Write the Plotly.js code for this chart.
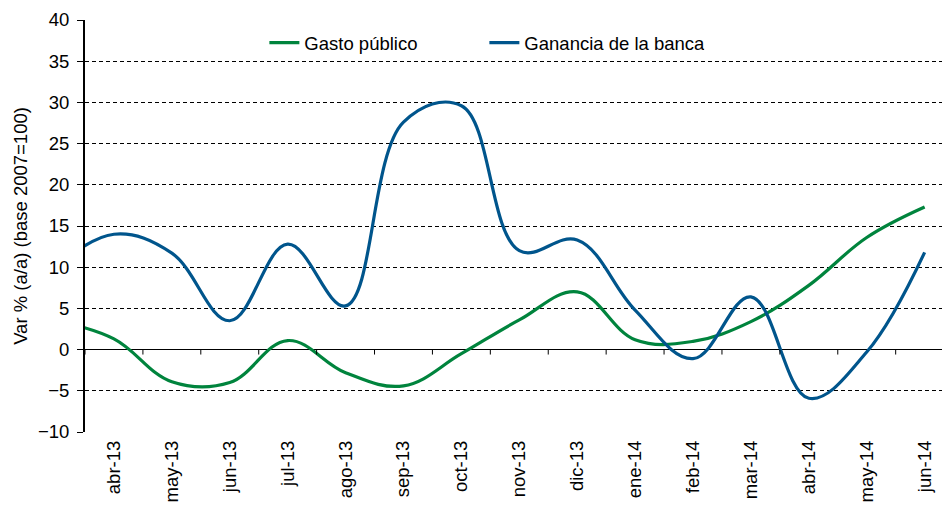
<!DOCTYPE html>
<html>
<head>
<meta charset="utf-8">
<script src="https://cdn.plot.ly/plotly-3.0.1.min.js"></script>
<style>html,body{margin:0;padding:0;background:#fff;}#chart{width:942px;height:505px;}</style>
</head>
<body>
<div id="chart"></div>
<script>
// Months of the series (first value, mar-13, lies left of the visible axis range)
const months = ['mar-13','abr-13','may-13','jun-13','jul-13','ago-13','sep-13','oct-13','nov-13','dic-13','ene-14','feb-14','mar-14','abr-14','may-14','jun-14'];
const tickLabels = ['abr-13','may-13','jun-13','jul-13','ago-13','sep-13','oct-13','nov-13','dic-13','ene-14','feb-14','mar-14','abr-14','may-14','jun-14'];
const gastoPublico = [3.5, 1.3, -3.9, -4.0, 1.1, -2.8, -4.4, -0.5, 3.6, 7.0, 1.2, 1.0, 3.4, 7.8, 13.6, 17.3];
const gananciaBanca = [10.0, 14.0, 11.7, 3.5, 12.8, 5.3, 27.6, 29.6, 12.0, 13.3, 4.8, -1.1, 6.4, -5.9, -0.3, 11.8];
const yTicks = [-10, -5, 0, 5, 10, 15, 20, 25, 30, 35, 40];

const xIdx = months.map((m, i) => i - 1);
const tickIdx = tickLabels.map((m, i) => i);
const boundaries = [];
for (let i = 0; i <= tickLabels.length; i++) boundaries.push(i - 0.5);

const FONT = 'Liberation Sans, Arial, sans-serif';
const FS = 18.5;
const xRange = [-0.5, 14.3];
const TICK_DOWN = 0.6; // length of the category tick marks hanging below the zero line (y units)

const traces = [
  {x: xIdx, y: gastoPublico, name: 'Gasto público', type: 'scatter', mode: 'lines',
   line: {color: '#00843D', width: 3.2, shape: 'spline', smoothing: 1.1}, hoverinfo: 'none'},
  {x: xIdx, y: gananciaBanca, name: 'Ganancia de la banca', type: 'scatter', mode: 'lines',
   line: {color: '#00558C', width: 3.2, shape: 'spline', smoothing: 1.1}, hoverinfo: 'none'},
  // category-boundary tick marks on the zero line (horizontal axis crosses at 0)
  {x: boundaries, y: boundaries.map(() => 0), type: 'scatter', mode: 'markers',
   marker: {size: 1, color: 'rgba(0,0,0,0)'}, showlegend: false, hoverinfo: 'none',
   error_y: {type: 'data', symmetric: false, array: boundaries.map(() => 0),
             arrayminus: boundaries.map(() => TICK_DOWN), width: 0, thickness: 1, color: '#000'}}
];

const layout = {
  width: 942, height: 505,
  margin: {l: 85, r: 0, t: 20, b: 73},
  paper_bgcolor: '#fff', plot_bgcolor: '#fff',
  font: {family: FONT, color: '#000', size: FS},
  showlegend: true,
  legend: {orientation: 'h', x: 0.2093, xanchor: 'left', y: 0.944, yanchor: 'middle',
           font: {family: FONT, size: FS, color: '#000'}, bgcolor: 'rgba(255,255,255,0)',
           entrywidth: 175, itemclick: false},
  xaxis: {type: 'linear', range: xRange, tickmode: 'array', tickvals: tickIdx, ticktext: tickLabels,
          tickangle: -90, ticks: '', showgrid: false, zeroline: false, showline: false,
          ticklabelstandoff: 4, automargin: false,
          tickfont: {family: FONT, size: FS, color: '#000'}, fixedrange: true},
  yaxis: {type: 'linear', range: [-10, 40], tickmode: 'array', tickvals: yTicks, ticks: 'outside',
          ticklen: 6, tickcolor: '#000', showline: true, linecolor: '#000', linewidth: 2,
          showgrid: true, gridcolor: '#000', gridwidth: 1, griddash: '4px,3px',
          zeroline: true, zerolinecolor: '#000', zerolinewidth: 1, automargin: false,
          ticklabelstandoff: 4,
          tickfont: {family: FONT, size: FS, color: '#000'},
          title: {text: 'Var % (a/a) (base 2007=100)', font: {family: FONT, size: FS, color: '#000'}, standoff: 5},
          fixedrange: true}
};

Plotly.newPlot('chart', traces, layout, {displayModeBar: false, staticPlot: true});
</script>
</body>
</html>
